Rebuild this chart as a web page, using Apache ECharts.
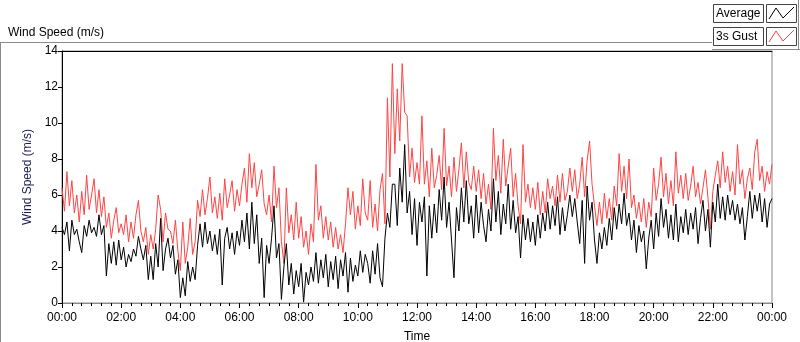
<!DOCTYPE html>
<html>
<head>
<meta charset="utf-8">
<script src="https://cdn.jsdelivr.net/npm/echarts@6/dist/echarts.min.js"></script>
<style>
  html, body { margin: 0; padding: 0; background: #fff; }
  #chart { width: 800px; height: 342px; }
</style>
</head>
<body>
<div id="chart"></div>
<script>
// samples every 5 minutes, 00:00 .. 24:00
const stepMin = 5;
const times = [];
for (let i = 0; i <= 288; i++) times.push(i * stepMin);

const xTicks = ['00:00','02:00','04:00','06:00','08:00','10:00','12:00','14:00','16:00','18:00','20:00','22:00','00:00'];

// average wind speed (m/s)
const average = [
  4.2,3.8,4.5,2.9,4.6,3.8,4.1,3.4,2.8,4.3,3.7,4.6,
  3.9,4.2,3.7,4.9,3.8,4.3,1.5,3.3,2.2,3.4,2.1,3.5,
  2.4,3.1,2.0,2.7,2.3,3.0,2.6,3.7,3.0,2.4,3.2,1.3,
  2.6,1.3,3.3,2.0,4.7,1.8,3.0,3.6,2.5,3.2,1.6,2.4,
  0.3,1.4,0.4,2.3,1.2,2.0,1.3,3.2,4.4,3.1,4.5,3.3,
  4.0,2.9,3.8,2.7,4.1,1.0,3.6,4.2,3.0,3.9,2.7,4.0,
  3.2,4.6,3.4,5.0,3.0,5.6,3.3,4.9,2.2,3.6,0.3,3.2,
  2.2,3.6,5.4,2.5,3.3,0.2,2.0,3.3,1.0,2.2,0.5,1.8,
  0.9,2.2,0.05,1.7,1.0,2.0,1.2,2.8,1.1,2.4,1.4,2.7,
  0.9,2.3,1.3,2.6,0.8,2.4,1.5,2.8,0.6,2.5,1.2,2.1,
  1.5,2.9,1.7,2.7,2.2,1.1,2.9,1.6,3.3,1.4,0.9,3.6,
  5.0,4.2,6.6,6.6,4.3,7.5,5.6,8.8,5.0,6.2,3.8,5.8,
  3.2,5.6,4.5,5.9,1.5,5.4,3.6,5.5,3.9,6.3,4.6,7.0,
  4.2,5.6,3.5,1.4,5.3,4.0,6.4,4.5,6.8,4.4,5.4,3.6,
  6.0,3.9,5.6,4.3,3.4,5.2,4.0,6.9,4.5,6.2,3.8,5.5,
  4.4,6.6,4.1,5.7,3.9,4.8,2.5,4.9,3.5,4.7,3.4,4.5,
  3.2,4.9,3.6,5.0,4.0,5.6,4.1,5.4,4.3,5.9,3.8,5.3,
  4.0,4.9,6.0,4.8,5.8,4.5,3.3,5.7,2.2,6.5,4.6,5.6,
  3.5,2.2,3.9,3.0,4.2,3.2,4.7,3.5,5.3,4.1,5.5,4.4,
  6.1,4.3,5.0,3.5,4.6,2.8,4.3,3.4,4.0,1.9,3.6,4.6,
  3.0,5.0,3.7,5.8,4.2,5.2,3.6,4.9,3.5,5.5,3.4,4.8,
  3.9,5.2,3.8,5.0,4.1,5.3,3.3,4.7,5.7,4.0,5.2,3.1,
  5.6,4.5,6.6,4.7,5.9,4.6,6.0,4.9,5.7,4.6,5.5,4.4,
  5.3,3.5,4.8,6.2,4.7,6.0,5.1,6.1,4.5,5.8,4.2,5.5,
  5.8
];

// 3 second gust (m/s)
const gust = [
  6.4,5.1,7.3,5.4,6.8,5.0,6.0,4.5,6.2,4.9,7.1,5.2,
  6.0,6.9,5.0,6.3,4.8,5.9,4.2,5.0,3.6,4.6,5.3,3.9,
  4.4,3.8,4.9,3.4,4.5,3.6,4.9,5.7,4.0,3.4,4.2,2.7,
  3.8,3.0,4.1,6.0,5.2,3.4,5.0,4.1,4.0,3.3,4.6,2.9,
  1.8,4.5,2.2,3.1,4.7,2.7,3.4,5.7,4.8,6.3,4.9,5.8,
  7.0,5.0,5.9,4.7,6.1,4.6,6.9,5.3,6.0,6.8,5.1,6.3,
  5.4,6.6,7.5,5.6,8.3,6.4,7.8,5.9,6.6,7.4,5.5,4.9,
  6.0,4.5,7.6,5.3,6.4,3.4,2.2,6.4,3.9,4.9,3.5,5.6,
  3.6,4.8,3.1,4.0,2.7,4.4,3.4,7.7,4.6,5.4,3.6,4.8,
  3.5,4.5,3.1,4.2,3.0,3.8,2.8,4.4,6.4,4.9,6.2,4.1,
  5.4,4.3,6.9,5.0,4.6,6.8,4.2,5.5,4.0,6.3,7.2,4.4,
  11.4,7.0,13.3,8.3,11.9,9.0,13.3,10.6,10.4,7.0,8.6,6.7,
  7.8,6.6,10.4,6.6,7.9,5.9,8.6,6.4,7.1,8.2,6.3,9.7,
  6.5,7.6,5.9,8.1,6.2,7.4,8.9,6.4,8.4,6.7,6.3,7.6,
  6.2,7.4,5.8,7.2,5.5,6.6,5.2,9.7,6.8,8.2,6.1,9.1,
  6.5,7.6,8.6,5.9,7.2,5.4,4.4,8.8,5.6,6.6,5.3,6.4,
  5.2,6.7,4.9,6.2,5.0,6.9,5.8,6.5,5.4,7.1,5.6,7.2,
  5.7,6.2,7.5,6.2,7.4,5.8,6.6,8.1,5.9,7.9,9.0,6.6,
  5.4,4.3,5.6,4.4,6.1,4.7,5.8,4.6,6.5,5.4,8.3,6.2,
  7.6,5.8,8.0,5.3,6.0,4.7,5.6,4.5,5.8,4.2,5.6,4.8,
  7.5,5.7,6.6,8.1,5.9,7.2,5.5,6.8,5.4,8.4,6.1,7.1,
  5.8,7.2,5.7,6.5,7.6,5.9,6.7,5.5,6.4,7.4,5.9,4.1,
  6.2,7.1,7.9,6.4,8.4,6.7,7.6,6.2,7.3,6.0,8.8,6.6,
  7.4,5.8,6.9,7.5,6.3,8.4,9.1,6.8,7.6,6.2,7.3,6.6,
  7.7
];

const avgPts = times.map((t, i) => [t, average[i]]);
const gustPts = times.map((t, i) => [t, gust[i]]);

const FONT = '"Liberation Sans", Arial, sans-serif';

const chart = echarts.init(document.getElementById('chart'), null, { renderer: 'canvas' });

function zig(x, y, color) {
  return {
    type: 'polyline',
    shape: { points: [[x + 2, y + 14], [x + 9, y + 3], [x + 16, y + 13], [x + 27, y + 2]] },
    style: { stroke: color, lineWidth: 1, fill: null }
  };
}

const option = {
  backgroundColor: '#fff',
  animation: false,
  title: {
    text: 'Wind Speed (m/s)',
    left: 3, top: 22,
    textStyle: { fontFamily: FONT, fontSize: 12, fontWeight: 'normal', color: '#000' }
  },
  grid: {
    left: 62, right: 28, top: 51, bottom: 39,
    outerBoundsMode: 'none', containLabel: false,
    show: true, borderColor: '#8a8a8a', borderWidth: 1, backgroundColor: '#fff'
  },
  xAxis: [{
    type: 'value',
    min: 0, max: 1440, interval: 120,
    name: 'Time', nameLocation: 'middle', nameGap: 28,
    nameTextStyle: { fontFamily: FONT, fontSize: 12, color: '#000' },
    axisLine: { show: true, lineStyle: { color: '#8a8a8a' } },
    axisTick: { show: true, length: 5, lineStyle: { color: '#000' } },
    minorTick: { show: true, splitNumber: 6, length: 3, lineStyle: { color: '#000' } },
    splitLine: { show: false },
    axisLabel: {
      margin: 9, fontFamily: FONT, fontSize: 12, color: '#000',
      formatter: v => xTicks[Math.round(v / 120)]
    }
  }, {
    type: 'value', position: 'top', min: 0, max: 1440,
    axisLine: { show: true, lineStyle: { color: '#000' } },
    axisTick: { show: false }, axisLabel: { show: false }, splitLine: { show: false }
  }],
  yAxis: {
    type: 'value',
    min: 0, max: 14, interval: 2,
    name: 'Wind Speed (m/s)', nameLocation: 'middle', nameGap: 21,
    nameTextStyle: { fontFamily: FONT, fontSize: 12, color: '#1c1c50' },
    axisLine: { show: true, lineStyle: { color: '#000' } },
    axisTick: { show: true, length: 4, lineStyle: { color: '#000' } },
    splitLine: { show: false },
    axisLabel: { margin: 4, fontFamily: FONT, fontSize: 12, color: '#000' }
  },
  series: [
    {
      name: '3s Gust', type: 'line', data: gustPts, xAxisIndex: 0,
      showSymbol: false, symbol: 'none',
      lineStyle: { color: '#ff4444', width: 1 }
    },
    {
      name: 'Average', type: 'line', data: avgPts, xAxisIndex: 0,
      showSymbol: false, symbol: 'none',
      lineStyle: { color: '#000', width: 1 }
    }
  ],
  graphic: [
    // panel frame
    { type: 'line', shape: { x1: 0, y1: 42.5, x2: 712, y2: 42.5 }, style: { stroke: '#8a8a8a', lineWidth: 1 } },
    { type: 'line', shape: { x1: 0.5, y1: 42, x2: 0.5, y2: 342 }, style: { stroke: '#8a8a8a', lineWidth: 1 } },
    { type: 'line', shape: { x1: 712, y1: 49.5, x2: 800, y2: 49.5 }, style: { stroke: '#8a8a8a', lineWidth: 1 } },
    { type: 'line', shape: { x1: 798.5, y1: 0, x2: 798.5, y2: 49 }, style: { stroke: '#8a8a8a', lineWidth: 1 } },
    // legend
    { type: 'rect', shape: { x: 713.5, y: 4.5, width: 50, height: 18 }, style: { fill: '#fff', stroke: '#444' } },
    { type: 'text', x: 716, y: 13.5, style: { text: 'Average', font: '12px ' + FONT, fill: '#000', verticalAlign: 'middle' } },
    { type: 'rect', shape: { x: 766.5, y: 4.5, width: 30, height: 18 }, style: { fill: '#fff', stroke: '#444' } },
    zig(767, 5, '#000'),
    { type: 'rect', shape: { x: 713.5, y: 27.5, width: 50, height: 18 }, style: { fill: '#fff', stroke: '#444' } },
    { type: 'text', x: 716, y: 36.5, style: { text: '3s Gust', font: '12px ' + FONT, fill: '#000', verticalAlign: 'middle' } },
    { type: 'rect', shape: { x: 766.5, y: 27.5, width: 30, height: 18 }, style: { fill: '#fff', stroke: '#444' } },
    zig(767, 28, '#ff4444')
  ]
};

chart.setOption(option);
</script>
</body>
</html>
